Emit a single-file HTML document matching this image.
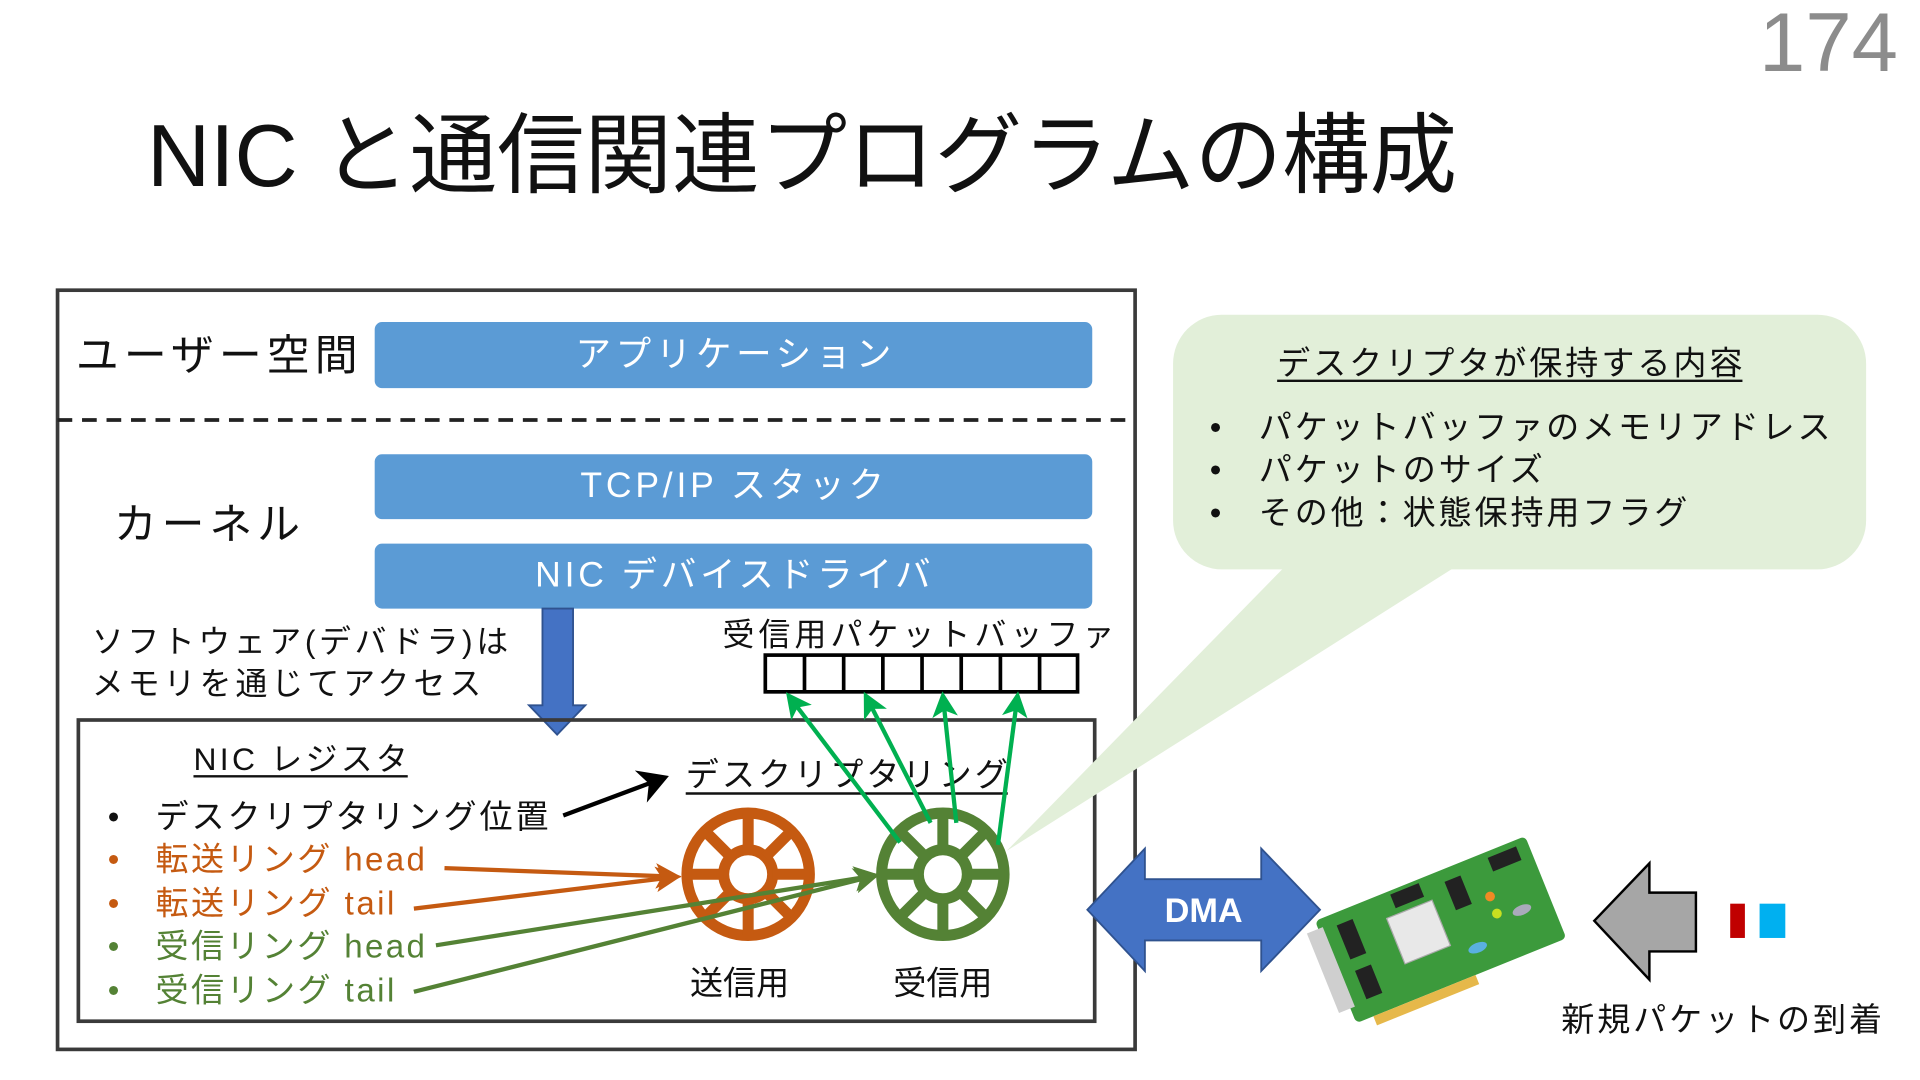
<!DOCTYPE html>
<html><head><meta charset="utf-8"><style>html,body{margin:0;padding:0;background:#fff}svg{display:block}text{font-family:"Liberation Sans","Noto Sans CJK JP",sans-serif}</style></head><body>
<svg width="1920" height="1080" viewBox="0 0 1568 882" xmlns="http://www.w3.org/2000/svg">
<defs>
<marker id="ab" markerWidth="8" markerHeight="8" refX="6" refY="4" orient="auto" markerUnits="strokeWidth"><path d="M0,0 L7,4 L0,8 L2,4z" fill="#000"/></marker>
<marker id="ao" markerWidth="6" markerHeight="6" refX="5" refY="3" orient="auto" markerUnits="strokeWidth"><path d="M0,0 L6,3 L0,6 L1.5,3z" fill="#c55a11"/></marker>
<marker id="ag" markerWidth="6" markerHeight="6" refX="5" refY="3" orient="auto" markerUnits="strokeWidth"><path d="M0,0 L6,3 L0,6 L1.5,3z" fill="#548235"/></marker>
<marker id="abg" markerWidth="6" markerHeight="6" refX="5" refY="3" orient="auto" markerUnits="strokeWidth"><path d="M0,0 L6,3 L0,6 L1.5,3z" fill="#00b050"/></marker>
</defs>
<text x="1550" y="58" text-anchor="end" font-size="68" fill="#8c8c8c">174</text>
<text x="120" y="152" font-size="72" fill="#111" textLength="1070" lengthAdjust="spacingAndGlyphs">NIC と通信関連プログラムの構成</text>

<rect x="47" y="237" width="880" height="620" fill="none" stroke="#3a3a3a" stroke-width="3"/>
<line x1="47" y1="343" x2="927" y2="343" stroke="#222" stroke-width="3" stroke-dasharray="12,8"/>
<text x="62" y="302" font-size="35" fill="#111" textLength="230">ユーザー空間</text>
<rect x="306" y="263" width="586" height="54" rx="6" fill="#5b9bd5"/>
<text x="470" y="299" font-size="29" fill="#fff" textLength="258">アプリケーション</text>
<text x="93" y="440" font-size="35" fill="#111" textLength="152">カーネル</text>
<rect x="306" y="371" width="586" height="53" rx="6" fill="#5b9bd5"/>
<text x="474" y="406" font-size="29" fill="#fff" textLength="248">TCP/IP スタック</text>
<rect x="306" y="444" width="586" height="53" rx="6" fill="#5b9bd5"/>
<text x="437" y="479" font-size="29" fill="#fff" textLength="323">NIC デバイスドライバ</text>
<text x="75" y="533" font-size="26" fill="#111" textLength="340">ソフトウェア(デバドラ)は</text>
<text x="75" y="567" font-size="26" fill="#111" textLength="318">メモリを通じてアクセス</text>
<path d="M443,497 L468,497 L468,576 L478,576 L455,600 L432,576 L443,576z" fill="#4472c4" stroke="#2f528f" stroke-width="1.5"/>
<text x="590" y="527" font-size="26" fill="#111" textLength="320">受信用パケットバッファ</text>
<rect x="625" y="535" width="255" height="30" fill="#fff" stroke="#000" stroke-width="3"/>
<g stroke="#000" stroke-width="3"><line x1="657" y1="535" x2="657" y2="565"/><line x1="689" y1="535" x2="689" y2="565"/><line x1="721" y1="535" x2="721" y2="565"/><line x1="753" y1="535" x2="753" y2="565"/><line x1="785" y1="535" x2="785" y2="565"/><line x1="817" y1="535" x2="817" y2="565"/><line x1="849" y1="535" x2="849" y2="565"/></g>

<rect x="64" y="588" width="830" height="246" fill="none" stroke="#3a3a3a" stroke-width="3"/>
<text x="158" y="629" font-size="26" fill="#111" textLength="175">NIC レジスタ</text>
<line x1="158" y1="634" x2="333" y2="634" stroke="#111" stroke-width="2"/>
<g font-size="27">
<text x="88" y="676" fill="#111">•</text><text x="127" y="676" fill="#111" textLength="321">デスクリプタリング位置</text>
<text x="88" y="711" fill="#c55a11">•</text><text x="127" y="711" fill="#c55a11" textLength="220">転送リング head</text>
<text x="88" y="747" fill="#c55a11">•</text><text x="127" y="747" fill="#c55a11" textLength="195">転送リング tail</text>
<text x="88" y="782" fill="#548235">•</text><text x="127" y="782" fill="#548235" textLength="220">受信リング head</text>
<text x="88" y="818" fill="#548235">•</text><text x="127" y="818" fill="#548235" textLength="195">受信リング tail</text>
</g>
<line x1="460" y1="666" x2="543" y2="635" stroke="#000" stroke-width="3.5" marker-end="url(#ab)"/>
<text x="560" y="642" font-size="27" fill="#111" textLength="263">デスクリプタリング</text>
<line x1="560" y1="648" x2="823" y2="648" stroke="#111" stroke-width="2"/>

<g stroke="#c55a11" stroke-width="9" fill="none">
<circle cx="611" cy="714" r="50"/><circle cx="611" cy="714" r="20"/>
<line x1="561" y1="714" x2="591" y2="714"/><line x1="631" y1="714" x2="661" y2="714"/>
<line x1="611" y1="664" x2="611" y2="694"/><line x1="611" y1="734" x2="611" y2="764"/>
<line x1="576" y1="679" x2="597" y2="700"/><line x1="625" y1="728" x2="646" y2="749"/>
<line x1="646" y1="679" x2="625" y2="700"/><line x1="597" y1="728" x2="576" y2="749"/>
</g>
<g stroke="#548235" stroke-width="9" fill="none">
<circle cx="770" cy="714" r="50"/><circle cx="770" cy="714" r="20"/>
<line x1="720" y1="714" x2="750" y2="714"/><line x1="790" y1="714" x2="820" y2="714"/>
<line x1="770" y1="664" x2="770" y2="694"/><line x1="770" y1="734" x2="770" y2="764"/>
<line x1="735" y1="679" x2="756" y2="700"/><line x1="784" y1="728" x2="805" y2="749"/>
<line x1="805" y1="679" x2="784" y2="700"/><line x1="756" y1="728" x2="735" y2="749"/>
</g>
<text x="604" y="812" text-anchor="middle" font-size="27" fill="#111">送信用</text>
<text x="770" y="812" text-anchor="middle" font-size="27" fill="#111">受信用</text>

<g stroke-width="3.5" fill="none">
<line x1="363" y1="709" x2="553" y2="716" stroke="#c55a11" marker-end="url(#ao)"/>
<line x1="338" y1="742" x2="553" y2="716" stroke="#c55a11" marker-end="url(#ao)"/>
<line x1="356" y1="772" x2="715" y2="715" stroke="#548235" marker-end="url(#ag)"/>
<line x1="338" y1="810" x2="715" y2="715" stroke="#548235" marker-end="url(#ag)"/>
<line x1="735" y1="688" x2="644" y2="568" stroke="#00b050" marker-end="url(#abg)"/>
<line x1="760" y1="672" x2="707" y2="568" stroke="#00b050" marker-end="url(#abg)"/>
<line x1="781" y1="672" x2="770" y2="568" stroke="#00b050" marker-end="url(#abg)"/>
<line x1="815" y1="690" x2="831" y2="568" stroke="#00b050" marker-end="url(#abg)"/>
</g>

<path d="M1050,462 L1190,462 L822,695z" fill="#e2efd9"/>
<rect x="958" y="257" width="566" height="208" rx="40" fill="#e2efd9"/>
<text x="1043" y="306" font-size="27" fill="#111" textLength="380">デスクリプタが保持する内容</text>
<line x1="1043" y1="311" x2="1423" y2="311" stroke="#111" stroke-width="2"/>
<g font-size="27" fill="#111">
<text x="988" y="358">•</text><text x="1028" y="358" textLength="467">パケットバッファのメモリアドレス</text>
<text x="988" y="393">•</text><text x="1028" y="393" textLength="232">パケットのサイズ</text>
<text x="988" y="428">•</text><text x="1028" y="428" textLength="350">その他：状態保持用フラグ</text>
</g>

<path d="M888,743 L935,693 L935,718 L1030,718 L1030,693 L1078,743 L1030,793 L1030,768 L935,768 L935,793z" fill="#4472c4" stroke="#2f528f" stroke-width="1.5"/>
<text x="983" y="753" text-anchor="middle" font-size="28" font-weight="bold" fill="#fff">DMA</text>

<g transform="rotate(-22 1175 762)">
<rect x="1085" y="715" width="185" height="90" rx="4" fill="#3c9a3c"/>
<rect x="1100" y="805" width="90" height="8" fill="#e6b84a"/>
<rect x="1075" y="722" width="14" height="70" fill="#cfcfcf"/>
<rect x="1140" y="735" width="40" height="40" fill="#e8e8e8" stroke="#aaa"/>
<rect x="1100" y="725" width="14" height="30" fill="#222"/><rect x="1100" y="765" width="14" height="25" fill="#222"/>
<rect x="1195" y="725" width="14" height="25" fill="#222"/><rect x="1150" y="718" width="25" height="12" fill="#222"/>
<rect x="1235" y="720" width="25" height="12" fill="#222"/>
<circle cx="1225" cy="750" r="4" fill="#f08a24"/><circle cx="1225" cy="765" r="4" fill="#c8e020"/>
<ellipse cx="1200" cy="785" rx="8" ry="4" fill="#5ab0e0"/><ellipse cx="1245" cy="770" rx="8" ry="4" fill="#aab"/>
</g>

<path d="M1302,752 L1347,705 L1347,729 L1385,729 L1385,777 L1347,777 L1347,800z" fill="#a6a6a6" stroke="#000" stroke-width="2"/>
<rect x="1413" y="738" width="12" height="28" fill="#c00000"/>
<rect x="1437" y="738" width="21" height="28" fill="#00b0f0"/>
<text x="1275" y="842" font-size="27" fill="#111" textLength="262">新規パケットの到着</text>
</svg>
</body></html>
